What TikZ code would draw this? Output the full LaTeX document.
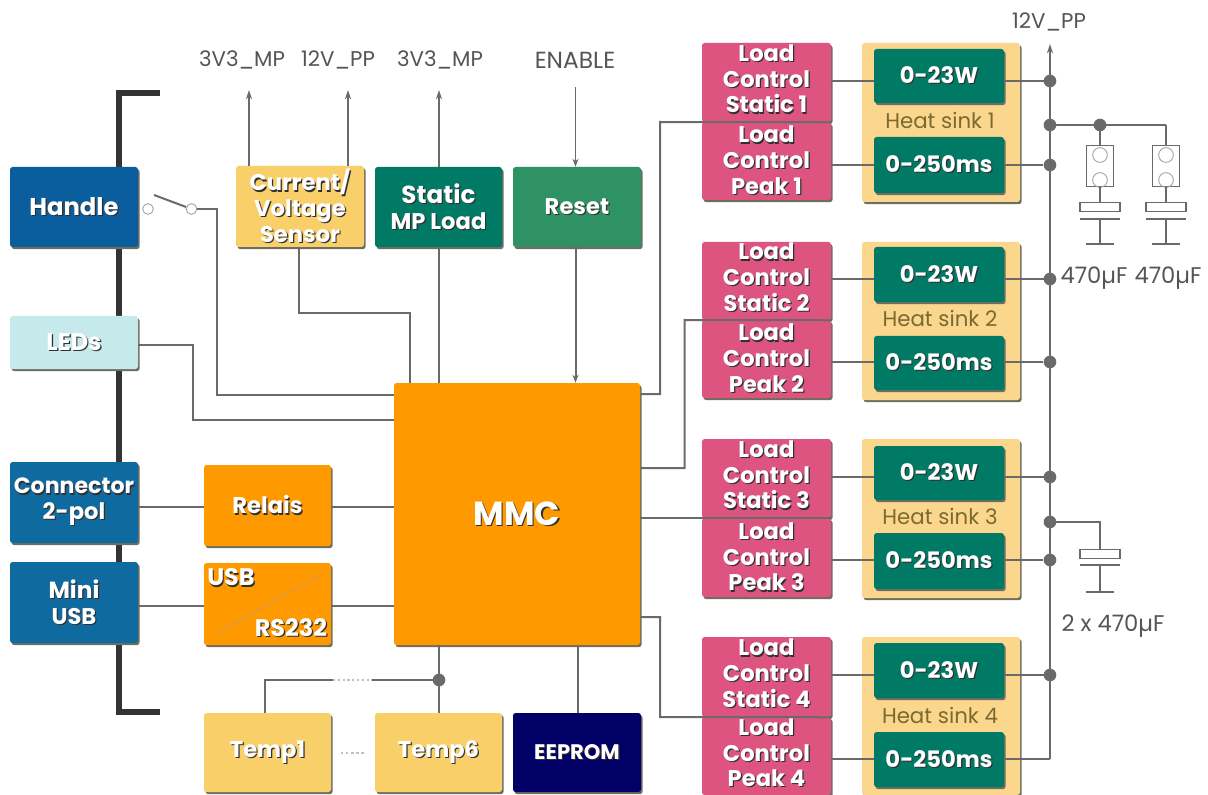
\documentclass[tikz,border=0pt]{standalone}
\usepackage{fontspec}
\setmainfont{Poppins}
\usetikzlibrary{arrows.meta,shadows,calc}
\definecolor{wirec}{HTML}{6A6A6A}
\definecolor{barc}{HTML}{333333}
\definecolor{shadec}{HTML}{6E6E60}
\definecolor{bluec}{HTML}{0B5E9E}
\definecolor{blue2c}{HTML}{0F6AA0}
\definecolor{ledc}{HTML}{C6E9EC}
\definecolor{orangec}{HTML}{FF9900}
\definecolor{orange2c}{HTML}{E8982E}
\definecolor{yellowc}{HTML}{F9CF6A}
\definecolor{greenc}{HTML}{007A64}
\definecolor{resetc}{HTML}{2F9265}
\definecolor{navyc}{HTML}{000066}
\definecolor{pinkc}{HTML}{DE5480}
\definecolor{sinkc}{HTML}{FBD78E}
\definecolor{sinktext}{HTML}{7A6A30}
\definecolor{labelc}{HTML}{555555}
\definecolor{txtsh}{HTML}{303030}
\newcommand\sh[1]{\makebox[0pt][l]{\kern0.9pt\raisebox{-0.9pt}{\textcolor{txtsh}{#1}}}\textcolor{white}{#1}}
\newcommand\bx[7][]{\node[box,fill=#7,minimum width={(#4-#2)*0.75pt},minimum height={(#5-#3)*0.75pt},#1] (#6) at ({(#2+#4)/2},{(#3+#5)/2})}
\tikzset{
  box/.style={rounded corners=2pt,inner sep=0pt,align=center,font=\fontsize{17}{19.3}\selectfont\bfseries,
    copy shadow={shadow xshift=1.2pt,shadow yshift=-1.6pt,fill=shadec,draw=none,opacity=1}},
  wire/.style={draw=wirec,line width=1.5pt},
  thin wire/.style={draw=wirec,line width=1.1pt},
  tip/.style={-{Stealth[length=7pt,width=4.5pt]}},
  midtip/.style={-{Stealth[length=6pt,width=4.5pt]}},
  bar/.style={draw=barc,line width=4.4pt},
  dot/.style={circle,fill=wirec,inner sep=0pt,minimum size=9.5pt},
  ring/.style={circle,draw=wirec,line width=0.7pt,fill=white,inner sep=0pt,minimum size=8pt},
  lab/.style={text=labelc,font=\fontsize{16}{19}\selectfont,inner sep=0pt},
  partline/.style={draw=wirec,line width=0.9pt},
  inner circle/.style={circle,draw=gray!70,line width=0.7pt,minimum size=11pt,inner sep=0pt},
  peakopt4/.style={text depth=5pt},
}
\begin{document}
\begin{tikzpicture}[x=0.75pt,y=-0.75pt]
\useasboundingbox[fill=white] (0,0) rectangle (1208,795);
% bracket
\coordinate (brtop) at (160,93);
\coordinate (brbot) at (160,712);
\draw[bar] (brtop) -- (119,93) -- (119,712) -- (brbot);
% heat sinks and load controls
\foreach \i/\lt/\ld/\lb/\hb/\gat/\gab/\gbt/\gbb/\ya/\yb in {
  1/43/122/200/202/49/103/137/193/81/165,
  2/242/320/398/400/247/302/336/390/279/362,
  3/439/518/597/598/446/500/533/589/477/560,
  4/637/717/795/795/643/698/732/787/675/759}{
  \bx{862}{\lt}{1020}{\hb}{hs\i}{sinkc} {};
  \node[text=sinktext,font=\fontsize{16}{19}\selectfont,inner sep=0pt] (ht\i) at (940,\ld-2) {Heat sink \i};
  \bx{874}{\gat}{1004}{\gab}{ga\i}{greenc} {\sh{0-23W}};
  \bx{874}{\gbt}{1004}{\gbb}{gb\i}{greenc} {\sh{0-250ms}};
  \bx[text depth=5.5pt]{702}{\lt}{831}{\ld}{ls\i}{pinkc} {\sh{Load}\\\sh{Control}\\\sh{Static \i}};
  \bx[peakopt\i/.try]{702}{\ld}{831}{\lb}{lp\i}{pinkc} {\sh{Load}\\\sh{Control}\\\sh{Peak \i}};
}
% left column
\bx{10}{167}{138}{247}{handle}{bluec} {\fontsize{18.2}{22}\selectfont\sh{Handle}};
\bx{10}{316}{138}{369}{leds}{ledc} {\fontsize{18}{20}\selectfont\sh{LEDs}};
\bx{10}{462}{138}{543}{conn}{blue2c} {\fontsize{16.6}{21.5}\selectfont\sh{Connector}\\\sh{2-pol}};
\bx{10}{562}{138}{643}{miniusb}{blue2c} {\fontsize{17.5}{21.5}\selectfont\sh{Mini}\\\sh{USB}};
\bx{204}{465}{331}{546}{relais}{orangec} {\sh{Relais}};
\bx{204}{563}{331}{645}{usbrs}{orangec} {};
\coordinate (diaga) at (219,632);
\coordinate (diagb) at (320,575);
\draw[draw=orange2c,line width=1.6pt] (diaga) -- (diagb);
\node[inner sep=0pt,font=\fontsize{18}{21}\selectfont\bfseries] (usbt) at (231,578) {\sh{USB}};
\node[inner sep=0pt,font=\fontsize{18}{21}\selectfont\bfseries] (rst) at (291,628) {\sh{RS232}};
\bx{394}{383}{640}{645}{mmc}{orangec} {\fontsize{25}{29}\selectfont\sh{MMC}};
\bx{236}{166}{364}{247}{sensor}{yellowc} {\sh{Current/}\\\sh{Voltage}\\\sh{Sensor}};
\bx{375}{167}{502}{247}{mpload}{greenc} {\fontsize{18.5}{21.5}\selectfont\sh{Static}\\\sh{MP Load}};
\bx{513}{167}{641}{247}{reset}{resetc} {\sh{Reset}};
\bx{204}{713}{331}{792}{temp1}{yellowc} {\sh{Temp1}};
\bx{375}{713}{502}{792}{temp6}{yellowc} {\sh{Temp6}};
\bx{513}{713}{641}{792}{eeprom}{navyc} {\fontsize{15.8}{18}\selectfont\sh{EEPROM}};
\draw[draw=gray!50,line width=1.8pt,dotted] (341,753) coordinate (tda) -- (366,753) coordinate (tdb);
% labels
\node[lab] (la) at (242,60) {3V3\_MP};
\node[lab] (lb) at (338,60) {12V\_PP};
\node[lab] (lc) at (440,60) {3V3\_MP};
\node[lab,font=\fontsize{17.5}{20}\selectfont] (ld) at (575,60) {ENABLE};
\node[lab] (le) at (1049,22) {12V\_PP};
\node[lab,font=\fontsize{17}{20}\selectfont] (lf) at (1094,278) {470µF};
\node[lab,font=\fontsize{17}{20}\selectfont] (lg) at (1168,278) {470µF};
\node[lab,font=\fontsize{17}{20}\selectfont] (lh) at (1113,626) {2 x 470µF};
% top signals
\coordinate (ta) at (249,90); \coordinate (tb) at (348,90);
\coordinate (tc) at (439,90); \coordinate (td) at (575.5,87);
\draw[thin wire,tip] (sensor.north -| ta) -- (ta);
\draw[thin wire,tip] (sensor.north -| tb) -- (tb);
\draw[thin wire,tip] (mpload.north -| tc) -- (tc);
\draw[thin wire,midtip] (td) -- (reset.north -| td);
\draw[wire] (mpload.south -| tc) -- (mmc.north -| tc);
\draw[wire,midtip] (reset.south -| td) -- (mmc.north -| td);
\coordinate (sa) at (299,313);
\coordinate (sb) at (410,313);
\draw[wire] (sensor.south -| sa) -- (sa) -- (sb) -- (mmc.north -| sb);
% switch
\node[ring,draw=gray!70] (swa) at (148,209) {};
\node[ring,draw=gray!70] (swb) at (191.5,209) {};
\coordinate (swl) at (154,195);
\draw[wire] (swl) -- (swb);
\coordinate (swc) at (216.5,209);
\coordinate (swd) at (216.5,395);
\draw[wire] (swb) -- (swc) -- (swd) -- (mmc.west |- swd);
% leds
\coordinate (lea) at (192.5,345);
\coordinate (leb) at (192.5,420);
\draw[wire] (leds.east |- lea) -- (lea) -- (leb) -- (mmc.west |- leb);
% relais, usb
\coordinate (ry) at (0,507);
\draw[wire] (conn.east |- ry) -- (relais.west |- ry);
\draw[wire] (relais.east |- ry) -- (mmc.west |- ry);
\coordinate (uy) at (0,606);
\draw[wire] (miniusb.east |- uy) -- (usbrs.west |- uy);
\draw[wire] (usbrs.east |- uy) -- (mmc.west |- uy);
% temp, eeprom
\node[dot] (tj) at (439,680) {};
\coordinate (tl) at (265,680);
\coordinate (tg1) at (333,680);
\coordinate (tg2) at (372,680);
\draw[wire] (mmc.south -| tj) -- (temp6.north -| tj);
\draw[wire] (tj.center) -- (tg2);
\draw[wire] (tg1) -- (tl) -- (temp1.north -| tl);
\draw[draw=gray!50,line width=1.6pt,dotted] (tg1) -- (tg2);
\coordinate (ee) at (577.5,680);
\draw[wire] (mmc.south -| ee) -- (eeprom.north -| ee);
% MMC to load controls
\coordinate (m1a) at (0,394); \coordinate (m1b) at (660,122);
\draw[wire] (mmc.east |- m1a) -| (m1b) -- (ls1.south east);
\coordinate (m2a) at (0,468); \coordinate (m2b) at (684.5,320);
\draw[wire] (mmc.east |- m2a) -| (m2b) -- (ls2.south east);
\draw[wire] (mmc.east |- ls3.south) -- (ls3.south east);
\coordinate (m4a) at (0,617); \coordinate (m4b) at (660,717);
\draw[wire] (mmc.east |- m4a) -| (m4b) -- (ls4.south east);
% bus
\foreach \y in {81,125,165,279,362,477,522,560,675}{\node[dot] (d\y) at (1050,\y) {};}
\coordinate (d759) at (1050,759);
\coordinate (bustop) at (1050,44);
\draw[wire,tip,line width=2pt] (d759) -- (bustop);
\foreach \i/\ya/\yb in {1/81/165,2/279/362,3/477/560,4/675/759}{
  \draw[wire] (ls\i.east |- d\ya) -- (ga\i.west |- d\ya);
  \draw[wire] (ga\i.east |- d\ya) -- (d\ya.center);
  \draw[wire] (lp\i.east |- d\yb) -- (gb\i.west |- d\yb);
  \draw[wire] (gb\i.east |- d\yb) -- (d\yb);
}
% capacitors with fuses
\node[dot] (cj) at (1100,125) {};
\coordinate (cc) at (1166,125);
\draw[wire] (d125.center) -- (cj.center) -- (cc);
\foreach \n/\x in {a/1100,b/1166}{
  \node[draw=wirec,line width=0.9pt,minimum width=20pt,minimum height=31pt,inner sep=0pt] (fuse\n) at (\x,166) {};
  \node[inner circle] (fa\n) at (\x,155) {};
  \node[inner circle] (fb\n) at (\x,180) {};
  \node[draw=wirec,line width=0.9pt,minimum width=30pt,minimum height=6.5pt,inner sep=0pt] (cap\n) at (\x,207) {};
  \coordinate (pl\n) at (\x,219);
  \coordinate (gn\n) at (\x,244);
  \draw[partline] (\x,125) -- (fuse\n.north);
  \draw[partline] (fuse\n.south) -- (cap\n.north);
  \draw[partline] ($(pl\n)+(-20,0)$) -- ($(pl\n)+(20,0)$);
  \draw[partline] (pl\n) -- (gn\n);
  \draw[partline] ($(gn\n)+(-14,0)$) -- ($(gn\n)+(14,0)$);
}
\node[draw=wirec,line width=0.9pt,minimum width=30pt,minimum height=6.5pt,inner sep=0pt] (capc) at (1100,554) {};
\coordinate (plc) at (1100,565);
\coordinate (gnc) at (1100,592);
\draw[partline] (d522.center) -| (capc.north);
\draw[partline] ($(plc)+(-20,0)$) -- ($(plc)+(20,0)$);
\draw[partline] (plc) -- (gnc);
\draw[partline] ($(gnc)+(-14,0)$) -- ($(gnc)+(14,0)$);
\end{tikzpicture}
\end{document}
